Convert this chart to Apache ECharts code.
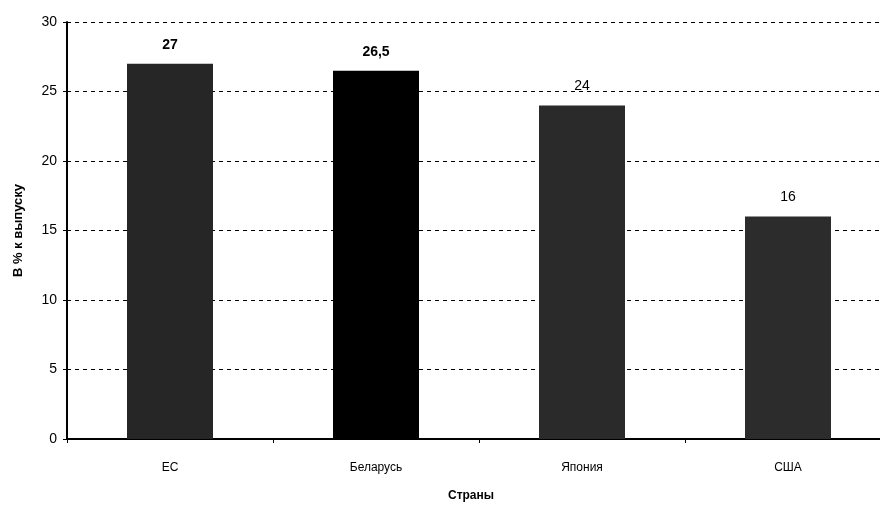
<!DOCTYPE html>
<html>
<head>
<meta charset="utf-8">
<title>Страны</title>
<script src="https://cdn.jsdelivr.net/npm/echarts@6/dist/echarts.min.js"></script>
<style>
  html, body { margin: 0; padding: 0; background: #fff; overflow: hidden; }
  #chart1 { width: 900px; height: 507px; }
</style>
</head>
<body>
<div id="chart1"></div>
<script type="text/javascript">
// данные
var countries = ['ЕС', 'Беларусь', 'Япония', 'США'];
var values = [27, 26.5, 24, 16];
var barColors = ['#262626', '#000000', '#2a2a2a', '#2c2c2c'];
var labelBold = ['bold', 'bold', 'normal', 'normal'];

// полотно чуть шире окна: в оригинале правый край оси обрезан
var myChart1 = echarts.init(document.getElementById('chart1'));

var seriesData = values.map(function (v, i) {
    return {
        value: v,
        itemStyle: { color: barColors[i] },
        label: { fontWeight: labelBold[i] }
    };
});

myChart1.setOption({
    animation: false,
    textStyle: { fontFamily: 'Liberation Sans, Arial, sans-serif', color: '#000' },
    grid: { left: 67, right: 9, top: 22, bottom: 66 },
    xAxis: {
        type: 'category',
        data: countries,
        name: 'Страны',
        nameLocation: 'middle',
        nameGap: 51,
        nameTextStyle: { fontWeight: 'bold', fontSize: 12, color: '#000', padding: [0, 16, 0, 0] },
        axisLine: { lineStyle: { color: '#000', width: 2 } },
        axisTick: { show: true, length: 4, lineStyle: { color: '#000' } },
        axisLabel: { color: '#000', fontSize: 12, margin: 23 }
    },
    yAxis: {
        type: 'value',
        min: 0,
        max: 30,
        interval: 5,
        name: 'В % к выпуску',
        nameLocation: 'middle',
        nameGap: 42,
        nameTextStyle: { fontWeight: 'bold', fontSize: 13, color: '#000' },
        axisLine: { show: true, lineStyle: { color: '#000', width: 2 } },
        axisTick: { show: true, length: 4, lineStyle: { color: '#000' } },
        axisLabel: { color: '#000', fontSize: 14, margin: 10 },
        splitLine: { lineStyle: { color: '#000', type: [4, 4], width: 1 } }
    },
    series: [{
        type: 'bar',
        barWidth: 86,
        data: seriesData,
        label: {
            show: true,
            position: 'top',
            distance: 12,
            fontSize: 14,
            color: '#000',
            formatter: function (p) { return String(p.value).replace('.', ','); }
        }
    }]
});
</script>
</body>
</html>
